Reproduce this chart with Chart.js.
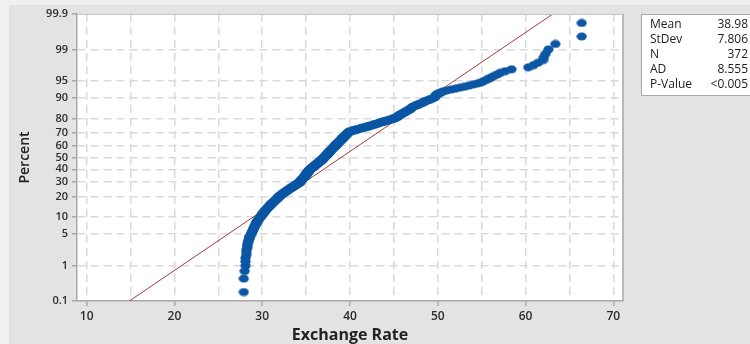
<!DOCTYPE html>
<html>
<head>
<meta charset="utf-8">
<title>Probability Plot of Exchange Rate</title>
<script src="https://cdn.jsdelivr.net/npm/chart.js@4.4.1/dist/chart.umd.min.js"></script>
<style>
  html, body { margin: 0; padding: 0; background: #f0f0f0; }
  #wrap { width: 750px; height: 344px; }
  canvas { display: block; }
</style>
</head>
<body>
<div id="wrap"><canvas id="plot" width="750" height="344"></canvas></div>
<script>
// Sorted exchange-rate observations (n = 372)
const exchangeRates = [
  27.9, 27.9, 28.0,
  28.1, 28.1, 28.1, 28.2, 28.2, 28.2, 28.3, 28.3, 28.3, 28.4, 28.4, 28.5, 28.5, 28.6, 28.7, 28.8,
  28.8, 28.9, 28.9, 29.0, 29.0, 29.1, 29.1, 29.2, 29.2, 29.3, 29.3, 29.4, 29.5, 29.5, 29.6, 29.6, 29.7, 29.8,
  29.8, 29.9, 29.9, 30.0, 30.0, 30.1, 30.2, 30.2, 30.3, 30.3, 30.4, 30.4, 30.5, 30.6, 30.6, 30.7, 30.7, 30.8, 30.9,
  30.9, 31.0, 31.0, 31.1, 31.1, 31.2, 31.3, 31.3, 31.4, 31.4, 31.5, 31.6, 31.6, 31.7, 31.7, 31.8, 31.8, 31.9, 31.9,
  32.0, 32.0, 32.1, 32.2, 32.2, 32.3, 32.4, 32.4, 32.5, 32.6, 32.6, 32.7, 32.8, 32.8, 32.9, 33.0, 33.0, 33.1, 33.2,
  33.2, 33.3, 33.4, 33.4, 33.5, 33.6, 33.6, 33.7, 33.8, 33.8, 33.9, 34.0, 34.0, 34.1, 34.2, 34.2, 34.3, 34.3,
  34.3, 34.4, 34.4, 34.4, 34.5, 34.5, 34.5, 34.6, 34.6, 34.6, 34.7, 34.7, 34.7, 34.8, 34.8, 34.8, 34.9, 34.9, 34.9,
  35.0, 35.0, 35.0, 35.0, 35.1, 35.1, 35.1, 35.2, 35.2, 35.2, 35.3, 35.3, 35.3, 35.3, 35.4, 35.4, 35.4, 35.4,
  35.5, 35.5, 35.6, 35.6, 35.7, 35.7, 35.8, 35.8, 35.9, 35.9, 35.9, 36.0, 36.0, 36.1, 36.1, 36.2, 36.2, 36.3, 36.3,
  36.3, 36.4, 36.4, 36.5, 36.5, 36.6, 36.6, 36.7, 36.7, 36.7, 36.8, 36.8, 36.9, 36.9, 36.9, 37.0, 37.0, 37.0,
  37.1, 37.1, 37.1, 37.2, 37.2, 37.2, 37.3, 37.3, 37.3, 37.4, 37.4, 37.4, 37.5, 37.5, 37.5, 37.6, 37.6, 37.6,
  37.7, 37.7, 37.7, 37.8, 37.8, 37.8, 37.9, 37.9, 37.9, 38.0, 38.0, 38.0, 38.1, 38.1, 38.1, 38.2, 38.2, 38.3, 38.3,
  38.3, 38.4, 38.4, 38.4, 38.5, 38.5, 38.5, 38.6, 38.6, 38.7, 38.7, 38.7, 38.8, 38.8, 38.8, 38.9, 38.9, 39.0, 39.0,
  39.0, 39.1, 39.1, 39.1, 39.2, 39.2, 39.3, 39.3, 39.3, 39.4, 39.4, 39.5, 39.5, 39.5, 39.6, 39.6, 39.7, 39.7, 39.7,
  39.8, 39.8, 39.9, 39.9, 40.0, 40.2, 40.3, 40.5, 40.6, 40.8, 40.9, 41.1, 41.2, 41.4, 41.6, 41.7, 41.9, 42.0, 42.2,
  42.3, 42.5, 42.6, 42.8, 42.9, 43.1, 43.2, 43.4,
  43.5, 43.7, 43.8, 44.0, 44.2, 44.3, 44.5, 44.7, 44.8, 45.0,
  45.1, 45.2, 45.3, 45.4, 45.5, 45.5, 45.6, 45.7, 45.8, 45.9, 46.0,
  46.1, 46.2, 46.3, 46.4, 46.5, 46.6, 46.7, 46.8, 46.9, 47.0, 47.0, 47.1, 47.2,
  47.4, 47.5, 47.7, 47.9, 48.0, 48.2, 48.3, 48.5,
  48.6, 48.8, 49.0, 49.2, 49.4, 49.6, 49.7, 49.7, 49.8, 49.8,
  50.0, 50.2, 50.4, 50.6, 51.0, 51.5, 52.0, 52.5, 53.0, 53.5, 54.0, 54.5, 54.9, 55.2, 55.5, 55.8, 56.1, 56.4,
  56.8, 57.1, 57.7, 58.4,
  60.3, 60.9, 61.4, 62.0, 62.1, 62.3, 62.6, 63.4, 66.4, 66.4
];

// Probability-scale tick labels (percent)
const percentTicks = [0.1, 1, 5, 10, 20, 30, 40, 50, 60, 70, 80, 90, 95, 99, 99.9];
// Exchange-rate axis: labelled ticks and grid positions
const rateTicks = [10, 20, 30, 40, 50, 60, 70];
const rateGrid = [10, 15, 20, 25, 30, 35, 40, 45, 50, 55, 60, 65, 70];
// Summary statistics table
const statLabels = ['Mean', 'StDev', 'N', 'AD', 'P-Value'];
const statValues = ['38.98', '7.806', '372', '8.555', '<0.005'];

// Inverse standard normal CDF (Acklam's rational approximation)
function normInv(p) {
  const a = [-3.969683028665376e+01, 2.209460984245205e+02, -2.759285104469687e+02,
             1.383577518672690e+02, -3.066479806614716e+01, 2.506628277459239e+00];
  const b = [-5.447609879822406e+01, 1.615858368580409e+02, -1.556989798598866e+02,
             6.680131188771972e+01, -1.328068155288572e+01];
  const c = [-7.784894002430293e-03, -3.223964580411365e-01, -2.400758277161838e+00,
             -2.549732539343734e+00, 4.374664141464968e+00, 2.938163982698783e+00];
  const d = [7.784695709041462e-03, 3.224671290700398e-01, 2.445134137142996e+00,
             3.754408661907416e+00];
  const pl = 0.02425, ph = 1 - pl;
  let q, r;
  if (p < pl) {
    q = Math.sqrt(-2 * Math.log(p));
    return (((((c[0]*q+c[1])*q+c[2])*q+c[3])*q+c[4])*q+c[5]) / ((((d[0]*q+d[1])*q+d[2])*q+d[3])*q+1);
  }
  if (p > ph) {
    q = Math.sqrt(-2 * Math.log(1 - p));
    return -(((((c[0]*q+c[1])*q+c[2])*q+c[3])*q+c[4])*q+c[5]) / ((((d[0]*q+d[1])*q+d[2])*q+d[3])*q+1);
  }
  q = p - 0.5; r = q * q;
  return (((((a[0]*r+a[1])*r+a[2])*r+a[3])*r+a[4])*r+a[5])*q / (((((b[0]*r+b[1])*r+b[2])*r+b[3])*r+b[4])*r+1);
}

// Median-rank plotting positions, placed on the normal-score axis
const n = exchangeRates.length;
const points = exchangeRates.map((v, i) => ({ x: v, y: normInv((i + 1 - 0.3) / (n + 0.4)) }));

// Fitted normal reference line from the reported mean and standard deviation
const mean = parseFloat(statValues[0]);
const sd = parseFloat(statValues[1]);
const zLo = normInv(percentTicks[0] / 100);
const zHi = normInv(percentTicks[percentTicks.length - 1] / 100);
const fitLine = [{ x: mean + sd * zLo, y: zLo }, { x: mean + sd * zHi, y: zHi }];

// Slightly oval marker
const dot = document.createElement('canvas');
dot.width = 11; dot.height = 9;
(function () {
  const g = dot.getContext('2d');
  g.fillStyle = '#0b57a4';
  g.beginPath();
  g.ellipse(5.5, 4.5, 5.1, 4.0, 0, 0, Math.PI * 2);
  g.fill();
})();

const frame = {
  id: 'frame',
  beforeDraw(chart) {
    const { ctx, chartArea: a } = chart;
    ctx.save();
    ctx.fillStyle = '#f0f0f0';
    ctx.fillRect(0, 0, chart.width, chart.height);
    ctx.fillStyle = '#e3e3e3';
    ctx.fillRect(9, 5, chart.width - 9, chart.height - 5);
    ctx.fillStyle = '#ffffff';
    ctx.fillRect(a.left, a.top, a.right - a.left, a.bottom - a.top);
    ctx.restore();
  },
  afterDraw(chart) {
    const { ctx, chartArea: a } = chart;
    ctx.save();
    // top and right edges of the plot frame
    ctx.strokeStyle = '#c4c4c4';
    ctx.lineWidth = 1;
    ctx.beginPath();
    ctx.moveTo(a.left, a.top + 0.5);
    ctx.lineTo(a.right, a.top + 0.5);
    ctx.stroke();
    ctx.strokeStyle = '#a8a8a8';
    ctx.lineWidth = 1.5;
    ctx.beginPath();
    ctx.moveTo(a.right, a.top);
    ctx.lineTo(a.right, a.bottom);
    ctx.stroke();

    // axis titles
    ctx.fillStyle = '#222222';
    ctx.textAlign = 'center';
    ctx.textBaseline = 'middle';
    ctx.font = '600 14px "Open Sans"';
    ctx.save();
    ctx.translate(25, (a.top + a.bottom) / 2);
    ctx.rotate(-Math.PI / 2);
    ctx.fillText('Percent', 0, 0);
    ctx.restore();
    ctx.font = 'bold 16px "Open Sans"';
    ctx.fillText('Exchange Rate', (a.left + a.right) / 2, 335);

    // statistics table
    const bx = 641, by = 14, bw = 120, bh = 81;
    ctx.fillStyle = '#ffffff';
    ctx.fillRect(bx, by, bw, bh);
    ctx.strokeStyle = '#a8a8a8';
    ctx.lineWidth = 1;
    ctx.strokeRect(bx + 0.5, by + 0.5, bw, bh);
    ctx.fillStyle = '#1c1c1c';
    ctx.font = '12px "Open Sans"';
    statLabels.forEach((lab, i) => {
      const y = 24.5 + i * 15;
      ctx.textAlign = 'left';
      ctx.fillText(lab, 650, y);
      ctx.textAlign = 'right';
      ctx.fillText(statValues[i], 748, y);
    });
    ctx.restore();
  }
};

const edgeTick = (v) => Math.abs(Math.abs(v) - zHi) < 1e-6;

new Chart(document.getElementById('plot'), {
  type: 'scatter',
  data: {
    datasets: [
      {
        data: points,
        pointStyle: dot,
        pointRadius: 5,
        backgroundColor: '#0b57a4',
        borderWidth: 0,
        order: 0
      },
      {
        type: 'line',
        data: fitLine,
        borderColor: '#a83a3a',
        borderWidth: 1,
        pointRadius: 0,
        fill: false,
        order: 1
      }
    ]
  },
  options: {
    responsive: false,
    animation: false,
    events: [],
    layout: { padding: { left: 0, top: 14, right: 127, bottom: 0 } },
    plugins: { legend: { display: false }, tooltip: { enabled: false } },
    scales: {
      x: {
        type: 'linear',
        min: 8.9,
        max: 71.1,
        afterFit(s) { s.height = 43; },
        afterBuildTicks(s) { s.ticks = rateGrid.map(v => ({ value: v })); },
        ticks: {
          autoSkip: false,
          maxRotation: 0,
          padding: 3,
          color: '#2c2c2c',
          font: { family: 'Open Sans', size: 12, weight: '600' },
          callback: (v) => rateTicks.includes(v) ? String(v) : ''
        },
        grid: {
          color: '#d9d9d9',
          lineWidth: 1.5,
          tickLength: 5,
          tickWidth: 1.5,
          tickColor: (c) => rateTicks.includes(c.tick && c.tick.value) ? '#a8a8a8' : 'rgba(0,0,0,0)'
        },
        border: { color: '#a8a8a8', width: 1.5, dash: [8, 5] }
      },
      y: {
        type: 'linear',
        min: zLo,
        max: zHi,
        afterFit(s) { s.width = 77; },
        afterBuildTicks(s) { s.ticks = percentTicks.map(p => ({ value: normInv(p / 100) })); },
        ticks: {
          autoSkip: false,
          padding: 4,
          color: '#2c2c2c',
          font: { family: 'Open Sans', size: 11, weight: '600' },
          callback: (v, i) => String(percentTicks[i])
        },
        grid: {
          color: (c) => (c.tick && edgeTick(c.tick.value)) ? 'rgba(0,0,0,0)' : '#d9d9d9',
          lineWidth: 1.5,
          tickLength: 5,
          tickWidth: 1.5,
          tickColor: '#a8a8a8'
        },
        border: { color: '#a8a8a8', width: 1.5, dash: [8, 5] }
      }
    }
  },
  plugins: [frame]
});
</script>
</body>
</html>
